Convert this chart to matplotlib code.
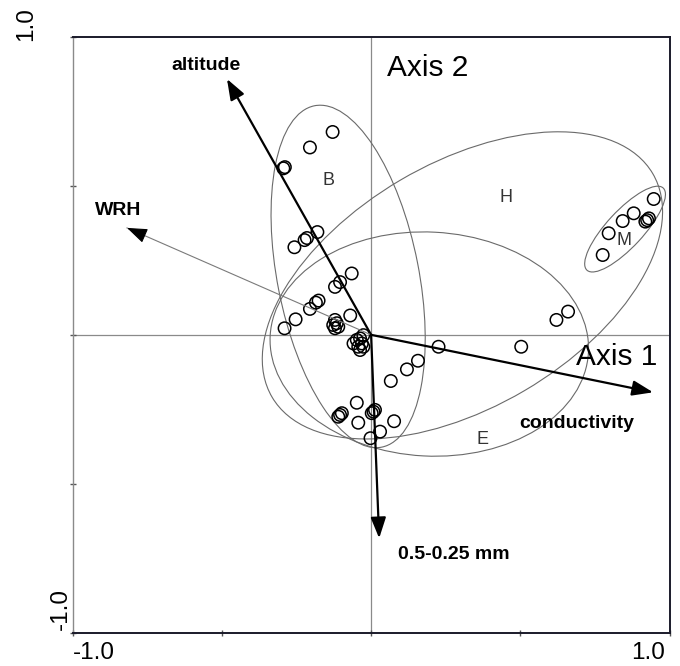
import matplotlib.pyplot as plt
from matplotlib.patches import Ellipse

plt.rcParams['font.family'] = ['Liberation Sans', 'DejaVu Sans']

# site scores (axis 1, axis 2)
site_x = [-0.129, -0.205, -0.294, -0.289, -0.180, -0.215, -0.223, -0.257,
          -0.065, -0.104, -0.121, -0.176, -0.185, -0.205, -0.253, -0.290,
          -0.070, -0.121, -0.115, -0.127, -0.110, -0.121,
          -0.026, -0.037, -0.048, -0.059, -0.031, -0.043, -0.026, -0.037,
          0.226, 0.157, 0.120, 0.066, 0.503, 0.621, 0.660,
          0.947, 0.880, 0.843, 0.925, 0.919, 0.931, 0.796, 0.776,
          -0.048, -0.104, -0.098, -0.110, 0.008, 0.013, 0.002, 0.077,
          -0.043, 0.030, -0.002]
site_y = [0.681, 0.629, 0.559, 0.563, 0.345, 0.325, 0.318, 0.294,
          0.206, 0.177, 0.161, 0.115, 0.108, 0.087, 0.052, 0.022,
          0.065, 0.050, 0.039, 0.033, 0.027, 0.022,
          -0.001, -0.012, -0.017, -0.029, -0.029, -0.040, -0.040, -0.051,
          -0.040, -0.087, -0.116, -0.155, -0.040, 0.050, 0.078,
          0.456, 0.408, 0.382, 0.385, 0.380, 0.391, 0.341, 0.268,
          -0.228, -0.269, -0.263, -0.275, -0.258, -0.252, -0.263, -0.290,
          -0.295, -0.325, -0.347]

# environmental variables (arrow tips)
env_names = ['altitude', 'WRH', 'conductivity', '0.5-0.25 mm']
env_x = [-0.483, -0.818, 0.945, 0.027]
env_y = [0.859, 0.359, -0.193, -0.683]
env_label_x = [-0.554, -0.846, 0.688, 0.277]
env_label_y = [0.905, 0.418, -0.296, -0.736]

# group ellipses: centre, semi-axes, angle (deg)
groups = ['B', 'H', 'E', 'M']
group_cx = [-0.077, 0.306, 0.195, 0.851]
group_cy = [0.196, 0.166, -0.031, 0.355]
group_a = [0.584, 0.740, 0.534, 0.188]
group_b = [0.237, 0.410, 0.376, 0.061]
group_angle = [101.1, 30.5, -3.0, 47.2]
group_label_x = [-0.144, 0.453, 0.372, 0.846]
group_label_y = [0.519, 0.462, -0.353, 0.318]

fig = plt.figure(figsize=(6.8, 6.66), dpi=100)
ax = fig.add_axes([0.1069, 0.05, 0.8777, 0.8945])
ax.set_xlim(-1, 1)
ax.set_ylim(-1, 1)

ax.axhline(0, color='#8a8a8a', lw=0.9, zorder=1)
ax.axvline(0, color='#8a8a8a', lw=0.9, zorder=1)

for i in range(len(groups)):
    e = Ellipse((group_cx[i], group_cy[i]), 2 * group_a[i], 2 * group_b[i],
                angle=group_angle[i], fill=False, edgecolor='#6a6a6a', lw=0.8, zorder=2)
    ax.add_patch(e)
    ax.text(group_label_x[i], group_label_y[i], groups[i], fontsize=13,
            color='#333333', ha='center', va='center', zorder=5)

ax.scatter(site_x, site_y, s=80, facecolors='none', edgecolors='black',
           linewidths=1.1, zorder=3)

head = '-|>,head_length=0.6,head_width=0.22'
for i in range(len(env_names)):
    tip = (env_x[i], env_y[i])
    if env_names[i] == 'WRH':
        # thin grey shaft, black head
        ax.plot([0, env_x[i]], [0, env_y[i]], color='#7a7a7a', lw=0.8, zorder=4)
        ax.annotate('', xy=tip, xytext=(env_x[i] * 0.93, env_y[i] * 0.93),
                    arrowprops=dict(arrowstyle=head, color='black', lw=0.8,
                                    mutation_scale=21, shrinkA=0, shrinkB=0), zorder=4)
    else:
        ax.annotate('', xy=tip, xytext=(0, 0),
                    arrowprops=dict(arrowstyle=head, color='black', lw=1.6,
                                    mutation_scale=21, shrinkA=0, shrinkB=0), zorder=4)
    ax.text(env_label_x[i], env_label_y[i], env_names[i], fontsize=14,
            fontweight='bold', ha='center', va='center', zorder=5)

ax.text(0.188, 0.895, 'Axis 2', fontsize=21.5, ha='center', va='center')
ax.text(0.822, -0.075, 'Axis 1', fontsize=21.5, ha='center', va='center')

# frame and ticks
for side in ['top', 'right', 'bottom']:
    ax.spines[side].set_color('#1a1a2a')
    ax.spines[side].set_linewidth(1.4)
ax.spines['left'].set_color('#8a8a8a')
ax.spines['left'].set_linewidth(1.0)
ticks = [-1, -0.5, 0, 0.5, 1]
ax.set_xticks(ticks)
ax.set_yticks(ticks)
ax.set_xticklabels([])
ax.set_yticklabels([])
ax.tick_params(direction='inout', length=5, width=1, color='#555555')

ax.text(-1.0, -1.068, '-1.0', fontsize=17.5, ha='left', va='center', clip_on=False)
ax.text(0.986, -1.068, '1.0', fontsize=17.5, ha='right', va='center', clip_on=False)
ax.text(-1.157, 1.044, '1.0', fontsize=17.5, rotation=90, ha='center', va='center', clip_on=False)
ax.text(-1.040, -0.922, '-1.0', fontsize=17.5, rotation=90, ha='center', va='center', clip_on=False)

fig.savefig('out.png', dpi=100)
